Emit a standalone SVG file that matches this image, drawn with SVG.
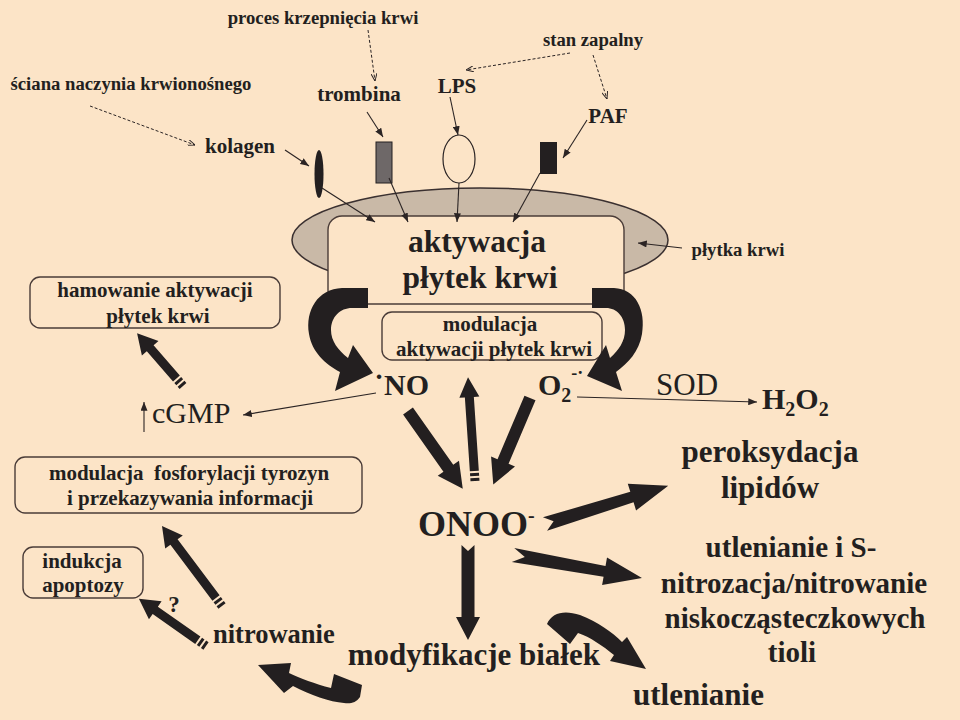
<svg xmlns="http://www.w3.org/2000/svg" width="960" height="720" viewBox="0 0 960 720" font-family="'Liberation Serif', 'Times New Roman', serif">
<defs>
<style>
text{font-family:'Liberation Serif','Times New Roman',serif;fill:#231F20;}
.b{font-weight:bold;}
.r{font-weight:normal;}
.m{text-anchor:middle;}
.thin{fill:none;stroke:#2b2424;stroke-width:1.1;}
.dash{fill:none;stroke:#2b2424;stroke-width:1;stroke-dasharray:3,2;}
.box{fill:#FCE4C7;stroke:#4a3c38;stroke-width:1.4;}
.blk{fill:#231F20;}
</style>
<marker id="ah" viewBox="0 0 10 8" refX="10" refY="4" markerWidth="9" markerHeight="7" markerUnits="userSpaceOnUse" orient="auto"><path d="M0,0 L10,4 L0,8 Z" fill="#2b2424"/></marker>
<marker id="ao" viewBox="0 0 10 8" refX="10" refY="4" markerWidth="8" markerHeight="6" markerUnits="userSpaceOnUse" orient="auto"><path d="M0,0 L10,4 L0,8" fill="none" stroke="#2b2424" stroke-width="1.3"/></marker>
</defs>
<rect width="960" height="720" fill="#FCE4C7"/>

<g id="platelet">
<ellipse cx="480" cy="240" rx="188" ry="52" fill="#C9B9A7" stroke="#3a3030" stroke-width="1.5"/>
<rect id="activation-box" x="328" y="216" width="296" height="88" rx="14" class="box"/>
<text class="b m" x="477" y="252" font-size="31.5">aktywacja</text>
<text class="b m" x="480" y="288" font-size="31.5">płytek krwi</text>
</g>

<g id="receptor-kolagen"><ellipse cx="319" cy="174" rx="4.5" ry="24" class="blk"/></g>
<g id="receptor-trombina"><rect x="376" y="142" width="16" height="41" fill="#6E6868" stroke="#231F20" stroke-width="1"/></g>
<g id="receptor-lps"><ellipse cx="459" cy="159" rx="16" ry="24" fill="none" stroke="#2b2424" stroke-width="1.2"/></g>
<g id="receptor-paf"><rect x="540" y="142" width="17" height="32" class="blk"/></g>

<g id="label-proces"><text class="b m" x="323" y="24" font-size="18.7">proces krzepnięcia krwi</text></g>
<g id="label-sciana"><text class="b m" x="131" y="90" font-size="18.7">ściana naczynia krwionośnego</text></g>
<g id="label-stan"><text class="b m" x="593" y="46" font-size="18.7">stan zapalny</text></g>
<g id="label-trombina"><text class="b m" x="359" y="101" font-size="21">trombina</text></g>
<g id="label-lps"><text class="b m" x="457" y="93" font-size="21">LPS</text></g>
<g id="label-kolagen"><text class="b m" x="240" y="153" font-size="21">kolagen</text></g>
<g id="label-paf"><text class="b m" x="608" y="123" font-size="21">PAF</text></g>
<g id="label-plytka"><text class="b m" x="738" y="256" font-size="18.7">płytka krwi</text></g>

<g id="modulacja-box">
<rect x="382" y="312" width="220" height="48" rx="10" class="box"/>
<text class="b m" x="490" y="331" font-size="21">modulacja</text>
<text class="b m" x="494" y="356" font-size="21">aktywacji płytek krwi</text>
</g>

<g id="hamowanie-box">
<rect x="30" y="277" width="250" height="51" rx="10" class="box"/>
<text class="b m" x="155" y="297" font-size="21">hamowanie aktywacji</text>
<text class="b m" x="158" y="323" font-size="21">płytek krwi</text>
</g>

<g id="fosforylacja-box">
<rect x="15" y="457" width="347" height="56" rx="10" class="box"/>
<text class="b m" x="189" y="480" font-size="21" xml:space="preserve">modulacja  fosforylacji tyrozyn</text>
<text class="b m" x="190" y="505" font-size="21">i przekazywania informacji</text>
</g>

<g id="apoptoza-box">
<rect x="23" y="547" width="120" height="51" rx="10" class="box"/>
<text class="b m" x="82" y="568" font-size="21">indukcja</text>
<text class="b m" x="83" y="592" font-size="21">apoptozy</text>
</g>

<g id="node-no"><text class="b" x="374" y="395" font-size="30">˙NO</text></g>
<g id="node-o2"><text class="b" x="538" y="395" font-size="30">O<tspan font-size="20" dy="7">2</tspan><tspan font-size="18" dy="-23">-·</tspan></text></g>
<g id="node-sod"><text class="r" x="656" y="395" font-size="31">SOD</text></g>
<g id="node-h2o2"><text class="b" x="762" y="409" font-size="30">H<tspan font-size="20" dy="7">2</tspan><tspan dy="-7">O</tspan><tspan font-size="20" dy="7">2</tspan></text></g>
<g id="node-cgmp"><text class="r" x="152" y="423" font-size="30">cGMP</text></g>
<g id="node-onoo"><text class="b" x="418" y="536" font-size="36">ONOO<tspan font-size="20" dy="-14">-</tspan></text></g>
<g id="node-peroksydacja">
<text class="b m" x="770" y="462" font-size="31">peroksydacja</text>
<text class="b m" x="770" y="498" font-size="31">lipidów</text>
</g>
<g id="node-tiole">
<text class="b m" x="791" y="557" font-size="29">utlenianie i S-</text>
<text class="b m" x="794" y="593" font-size="29">nitrozacja/nitrowanie</text>
<text class="b m" x="795" y="628" font-size="29">niskocząsteczkowych</text>
<text class="b m" x="792" y="662" font-size="29">tioli</text>
</g>
<g id="node-utlenianie"><text class="b" x="633" y="705" font-size="31">utlenianie</text></g>
<g id="node-modyfikacje"><text class="b" x="600" y="665" font-size="31" text-anchor="end">modyfikacje białek</text></g>
<g id="node-nitrowanie"><text class="b" x="213" y="643" font-size="26.5">nitrowanie</text></g>
<g id="label-q"><text class="b m" x="174" y="612" font-size="23">?</text></g>

<g id="connectors">
<path class="dash" d="M368,30 L375,81" marker-end="url(#ao)"/>
<path class="dash" d="M90,106 L195,145" marker-end="url(#ao)"/>
<path class="dash" d="M570,53 L466,70" marker-end="url(#ao)"/>
<path class="dash" d="M593,55 L607,99" marker-end="url(#ao)"/>
<path class="thin" d="M367,112 L383,137" marker-end="url(#ah)"/>
<path class="thin" d="M285,150 L309,166" marker-end="url(#ah)"/>
<path class="thin" d="M450,97 L458,135" marker-end="url(#ah)"/>
<path class="thin" d="M587,120 L563,158" marker-end="url(#ah)"/>
<path class="thin" d="M322,188 L375,222" marker-end="url(#ah)"/>
<path class="thin" d="M389,178 L408,222" marker-end="url(#ah)"/>
<path class="thin" d="M459,183 L457,222" marker-end="url(#ah)"/>
<path class="thin" d="M540,173 L513,222" marker-end="url(#ah)"/>
<path class="thin" d="M682,248 L638,243" marker-end="url(#ah)"/>
<path class="thin" d="M577,397 L757,402" marker-end="url(#ah)"/>
<path class="thin" d="M376,393 L243,415" marker-end="url(#ah)"/>
<path class="thin" d="M144,432 L144,402" marker-end="url(#ah)"/>

<path class="blk" d="M368,288 L342,288 C318,289 305,310 309,334 C312,352 325,364 340,372 L335,391 L373,373 L353,345 L348,358 C338,350 331,341 331,330 C331,317 340,308 352,308 L368,308 Z"/>
<path class="blk" d="M592,288 L614,288 C636,289 646,310 642,334 C639,352 628,363 616,372 L622,391 L587,376 L606,345 L610,358 C619,350 625,341 625,330 C625,317 617,308 606,308 L592,308 Z"/>

<path class="blk" transform="translate(408,411) rotate(54.8)" d="M0,-6 L70,-6 L70,-13 L95,0 L70,13 L70,6 L0,6 Z"/>
<path class="blk" transform="translate(530,398) rotate(113)" d="M0,-6 L69,-6 L69,-13 L94,0 L69,13 L69,6 L0,6 Z"/>
<path class="blk" transform="translate(545,524) rotate(-17.2)" d="M0,-7 L91,-5.5 L91,-14 L129,0 L91,14 L91,5.5 L0,7 L9,0 Z"/>
<path class="blk" transform="translate(513,555) rotate(10.1)" d="M0,-7 L93,-5.5 L93,-14 L131,0 L93,14 L93,5.5 L0,7 L12,0 Z"/>
<path class="blk" transform="translate(468,545) rotate(90)" d="M0,-6.5 L72,-6.5 L72,-12 L95,0 L72,12 L72,6.5 L0,6.5 L6,0 Z"/>

<path class="blk" transform="translate(183,386) rotate(-131)" d="M0,-4.5 h3 v9 h-3 Z M5,-4.5 h3 v9 h-3 Z M10,-4.5 L50,-4.5 L50,-11 L70,0 L50,11 L50,4.5 L10,4.5 Z"/>
<path class="blk" transform="translate(475,481) rotate(-93.85)" d="M0,-4.5 h3 v9 h-3 Z M5,-4.5 h3 v9 h-3 Z M10,-4.5 L84,-4.5 L84,-10 L104,0 L84,10 L84,4.5 L10,4.5 Z"/>
<path class="blk" transform="translate(222,606) rotate(-126.87)" d="M0,-4.5 h3 v9 h-3 Z M5,-4.5 h3 v9 h-3 Z M10,-4.5 L80,-4.5 L80,-11 L100,0 L80,11 L80,4.5 L10,4.5 Z"/>
<path class="blk" transform="translate(206,646) rotate(-144.9)" d="M0,-4.5 h3 v9 h-3 Z M5,-4.5 h3 v9 h-3 Z M10,-4.5 L62,-4.5 L62,-11 L82,0 L62,11 L62,4.5 L10,4.5 Z"/>

<path class="blk" d="M547,624 C552,612 565,610 580,615 C598,622 612,632 622,642 L627,637 L646,669 L610,661 L614,655 C603,646 590,637 578,633 L570,644 Z"/>
<path class="blk" d="M258,665 L291,663 L289,673 C300,678 315,684 331,688 L334,674 L362,685 L360,697 C356,703 350,704 344,703 C330,702 310,695 293,686 L284,693 Z"/>
</g>
</svg>
